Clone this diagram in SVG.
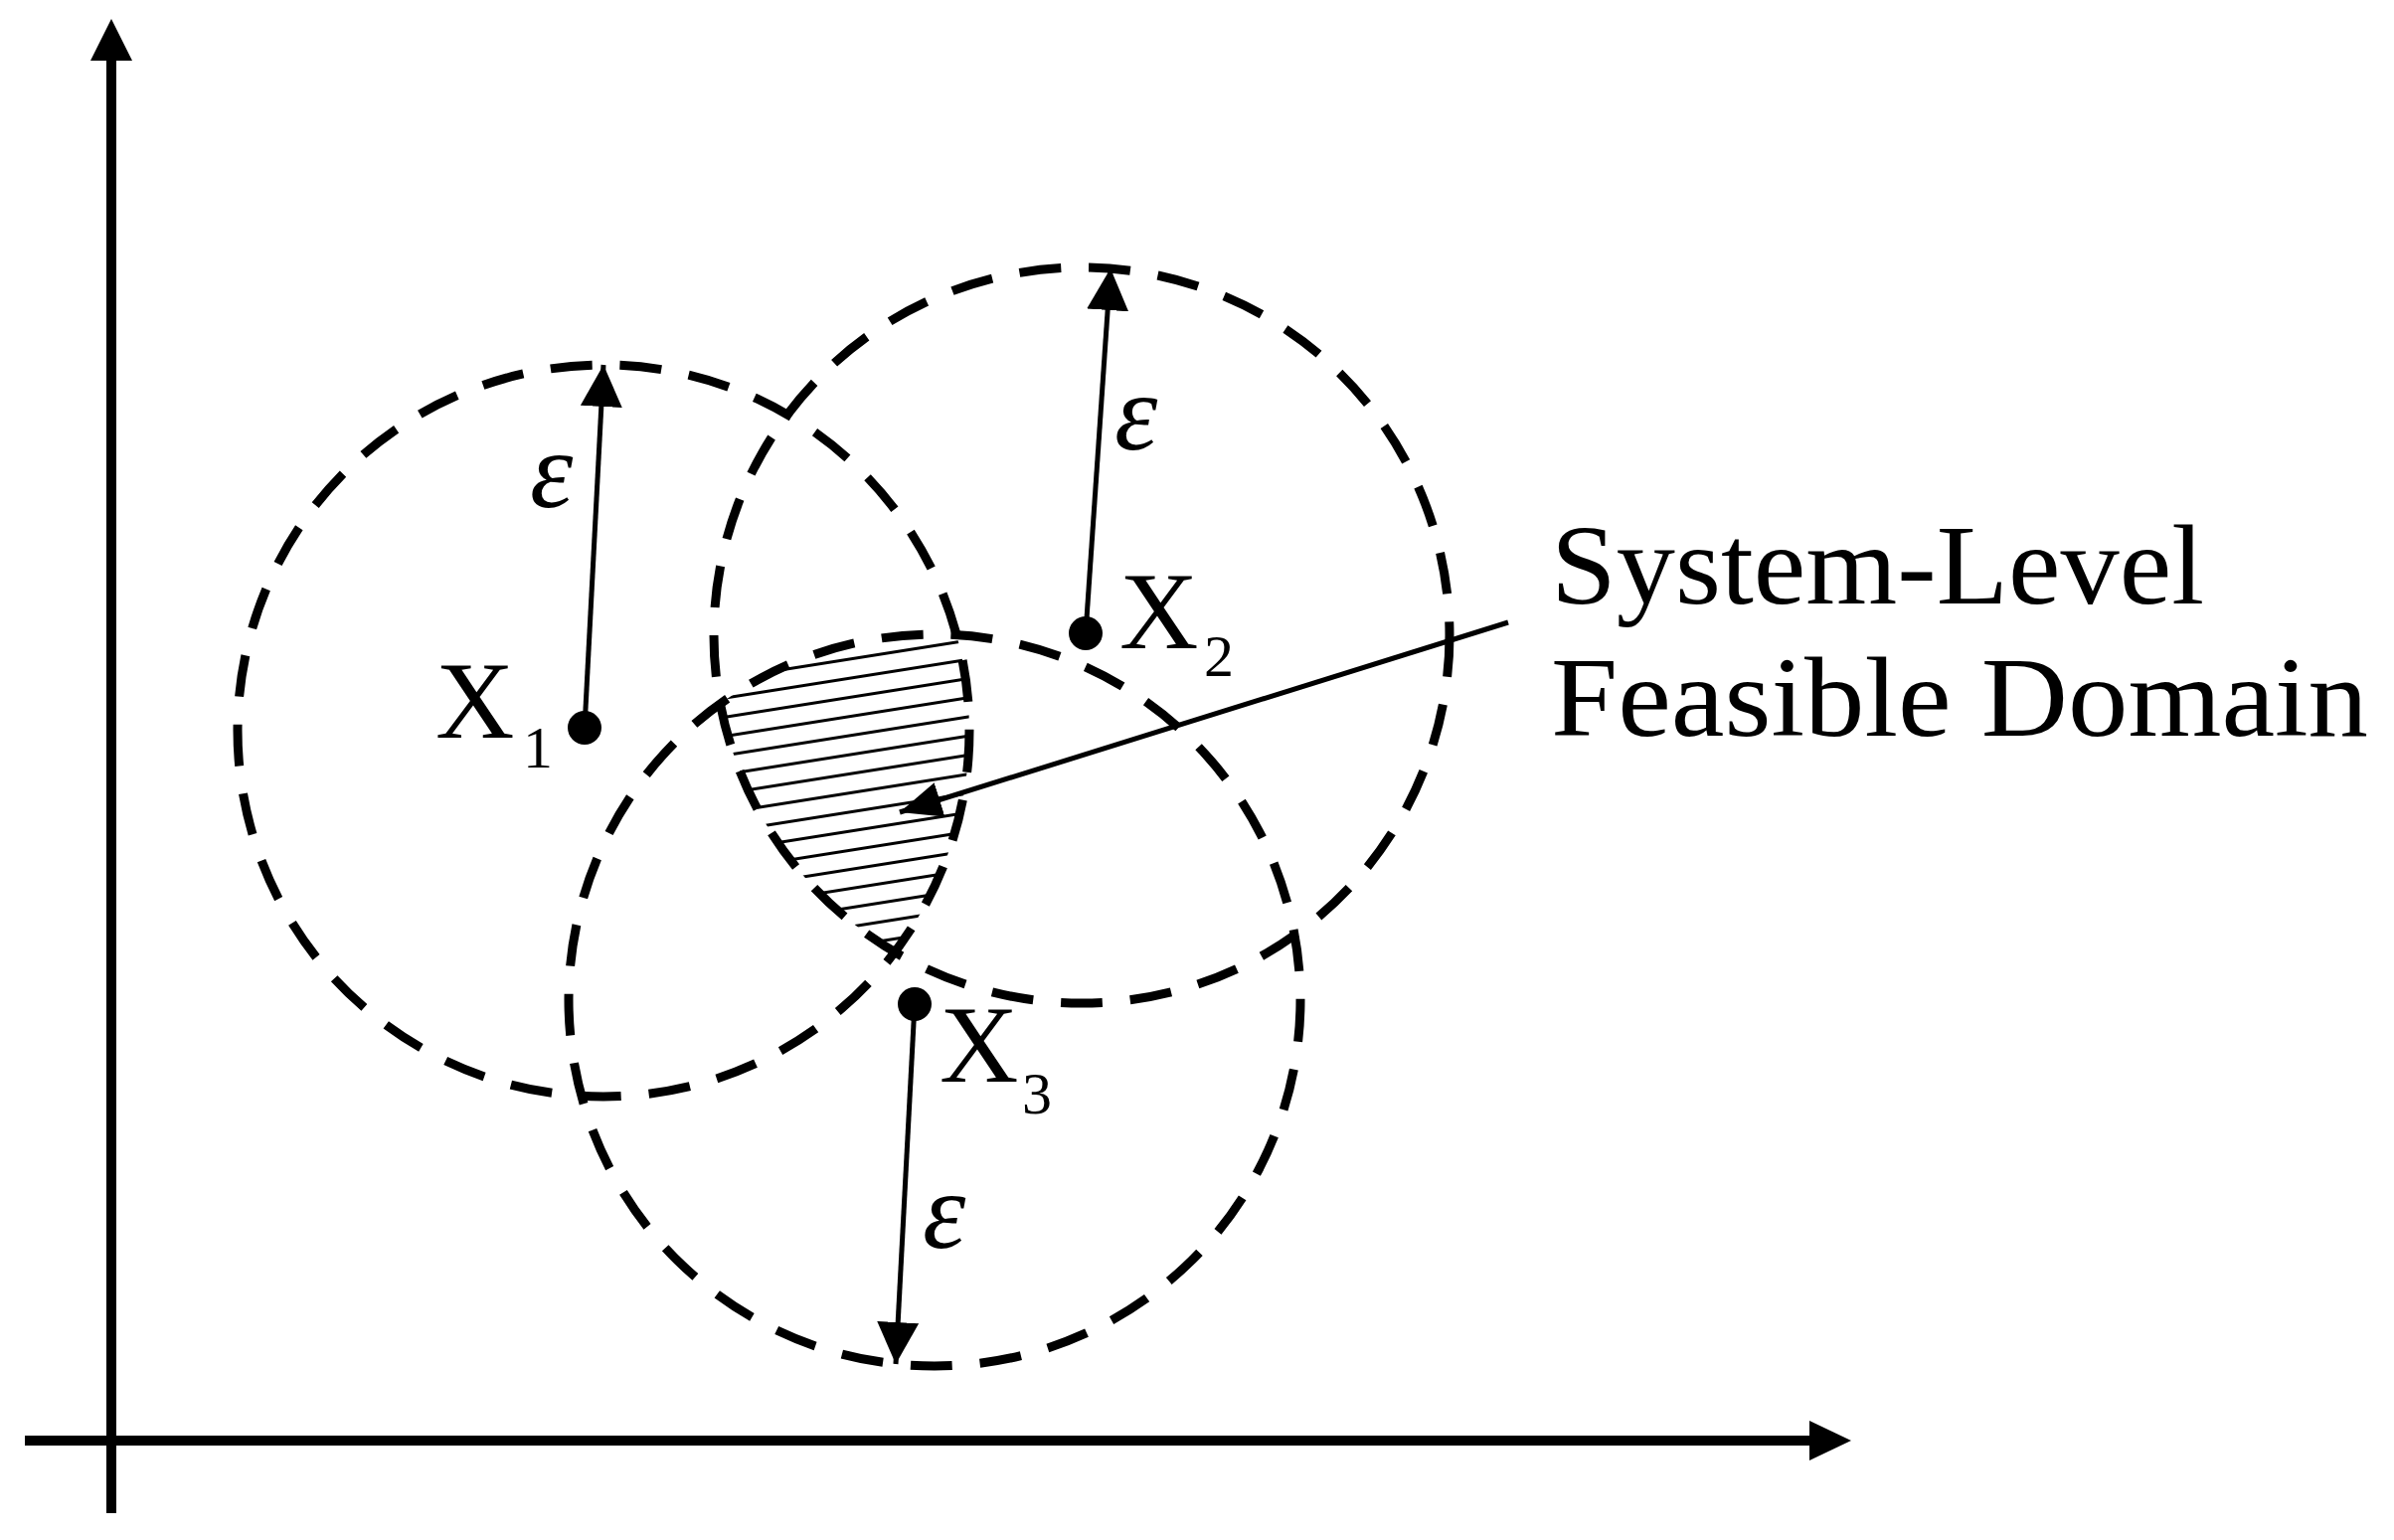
<svg xmlns="http://www.w3.org/2000/svg" width="2408" height="1549" viewBox="0 0 2408 1549">
<style>
.dash{fill:none;stroke:#000;stroke-width:9;stroke-dasharray:42 28}
.axis{stroke:#000;stroke-width:10;fill:none}
.thin{stroke:#000;stroke-width:5;fill:none}
.lbl{font-family:"Liberation Serif","Times New Roman",serif;fill:#000}
.eps{font-family:"Liberation Serif","Times New Roman",serif;font-style:italic;font-size:110px;fill:#000}
</style>
<defs>
<marker id="ah" markerUnits="userSpaceOnUse" markerWidth="42" markerHeight="42" viewBox="0 0 40 40" refX="40" refY="20" orient="auto">
<path d="M0,0 L40,20 L0,40 Z" fill="#000"/>
</marker>
<marker id="ahs" markerUnits="userSpaceOnUse" markerWidth="42" markerHeight="36" viewBox="0 0 42 36" refX="42" refY="18" orient="auto">
<path d="M0,0 L42,18 L0,36 Z" fill="#000"/>
</marker>
<pattern id="hatch" patternUnits="userSpaceOnUse" width="200" height="19" patternTransform="rotate(-9)">
<line x1="0" y1="9.5" x2="200" y2="9.5" stroke="#000" stroke-width="3"/>
</pattern>
<clipPath id="cp1"><circle cx="607" cy="735" r="368"/></clipPath>
<clipPath id="cp2"><circle cx="1088" cy="639" r="370"/></clipPath>
<clipPath id="cp3"><circle cx="940" cy="1006" r="368"/></clipPath>
</defs>
<rect width="2408" height="1549" fill="#fff"/>

<g id="axes">
<line class="axis" x1="112" y1="1522" x2="112" y2="55"/>
<polygon points="112,19 91,61 133,61" fill="#000"/>
<line class="axis" x1="25" y1="1449" x2="1825" y2="1449"/>
<polygon points="1862,1449 1820,1429 1820,1469" fill="#000"/>
</g>

<g id="feasible-domain">
<g clip-path="url(#cp1)"><g clip-path="url(#cp2)"><g clip-path="url(#cp3)">
<rect x="650" y="560" width="400" height="450" fill="url(#hatch)"/>
</g></g></g>
</g>

<g id="node-x1">
<circle class="dash" cx="607" cy="735" r="368"/>
<circle cx="588" cy="732" r="17" fill="#000"/>
<text class="lbl" x="438" y="742" font-size="110">X</text>
<text class="lbl" x="526" y="772" font-size="60">1</text>
<text class="eps" x="533" y="510">ε</text>
</g>

<g id="node-x2">
<circle class="dash" cx="1088" cy="639" r="370"/>
<circle cx="1092" cy="637" r="17" fill="#000"/>
<text class="lbl" x="1126" y="652" font-size="110">X</text>
<text class="lbl" x="1211" y="680" font-size="60">2</text>
<text class="eps" x="1121" y="452">ε</text>
</g>

<g id="node-x3">
<circle class="dash" cx="940" cy="1006" r="368"/>
<circle cx="920" cy="1010" r="17" fill="#000"/>
<text class="lbl" x="945" y="1088" font-size="110">X</text>
<text class="lbl" x="1028" y="1120" font-size="60">3</text>
<text class="eps" x="928" y="1255">ε</text>
</g>

<g id="label-domain">
<text class="lbl" x="1560" y="607" font-size="115" textLength="657" lengthAdjust="spacingAndGlyphs">System-Level</text>
<text class="lbl" x="1560" y="740" font-size="115" textLength="822" lengthAdjust="spacingAndGlyphs">Feasible Domain</text>
</g>

<g id="connectors">
<line class="thin" x1="588" y1="732" x2="607" y2="367" marker-end="url(#ah)"/>
<line class="thin" x1="1092" y1="637" x2="1117" y2="270" marker-end="url(#ah)"/>
<line class="thin" x1="920" y1="1010" x2="901" y2="1372" marker-end="url(#ah)"/>
<line class="thin" stroke-width="4" x1="1517" y1="626" x2="905" y2="817" marker-end="url(#ahs)"/>
</g>
</svg>
